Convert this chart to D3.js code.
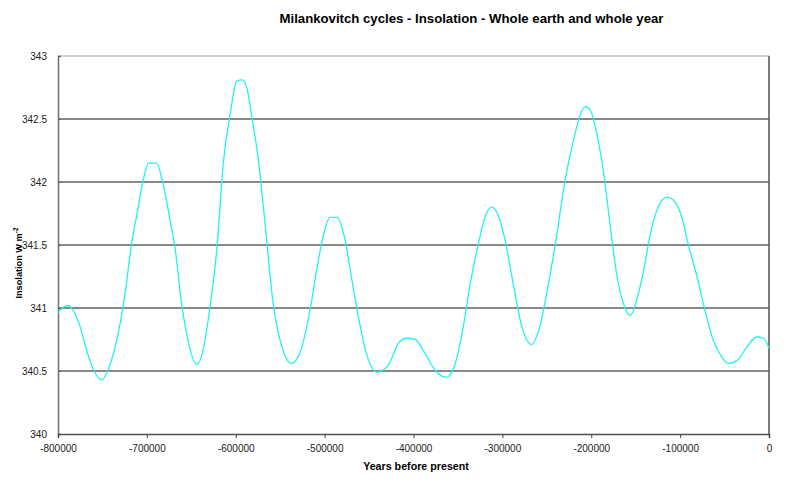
<!DOCTYPE html>
<html><head><meta charset="utf-8">
<script src="https://cdn.jsdelivr.net/npm/d3@7"></script>
<style>body{margin:0;background:#fff}svg{display:block;font-family:"Liberation Sans",Arial,sans-serif}</style>
</head><body><svg id="c" width="800" height="488"></svg>
<script>
const years = [-800000,-798000,-788000,-783000,-775000,-768000,-760000,-751000,-741000,-730000,-725000,-717000,-711000,-704000,-698000,-689000,-682000,-674000,-668000,-661000,-653000,-644000,-636000,-629000,-621000,-614000,-606000,-599000,-593000,-588000,-582000,-575000,-567000,-558000,-548000,-537000,-528000,-516000,-509000,-501000,-494000,-486000,-477000,-470000,-462000,-453000,-441000,-428000,-417000,-408000,-398000,-387000,-376000,-363000,-353000,-344000,-336000,-327000,-318000,-312000,-305000,-297000,-288000,-278000,-267000,-258000,-248000,-239000,-230000,-220000,-213000,-207000,-201000,-194000,-186000,-179000,-171000,-164000,-156000,-149000,-141000,-134000,-126000,-115000,-108000,-98000,-91000,-81000,-72000,-63000,-53000,-46000,-35000,-25000,-14000,-6000,0];
const insolation = [340.96,340.98,341.02,340.98,340.85,340.67,340.51,340.43,340.56,340.88,341.09,341.52,341.75,342.02,342.15,342.15,341.99,341.70,341.46,341.04,340.72,340.55,340.69,341.01,341.49,342.15,342.55,342.80,342.81,342.76,342.52,342.20,341.67,341.04,340.69,340.56,340.64,341.00,341.30,341.59,341.72,341.72,341.54,341.25,340.93,340.64,340.49,340.55,340.72,340.76,340.75,340.64,340.51,340.45,340.56,340.85,341.20,341.51,341.75,341.80,341.74,341.54,341.20,340.85,340.71,340.85,341.20,341.57,341.99,342.33,342.52,342.60,342.57,342.39,342.07,341.67,341.25,341.04,340.94,341.06,341.30,341.57,341.78,341.88,341.86,341.72,341.51,341.25,340.98,340.75,340.61,340.56,340.59,340.69,340.77,340.76,340.68];
const xTicks = [-800000,-700000,-600000,-500000,-400000,-300000,-200000,-100000,0];
const yTicks = [340,340.5,341,341.5,342,342.5,343];
const title = "Milankovitch cycles - Insolation - Whole earth and whole year";
const xTitle = "Years before present";

const svg = d3.select("#c");
const L = 58, R = 769, T = 56, B = 434;
const x = d3.scaleLinear().domain([-800000, 0]).range([L, R]);
const y = d3.scaleLinear().domain([340, 343]).range([B, T]);

// gridlines
svg.append("g").selectAll("line").data(yTicks.filter(v => v > 340 && v < 343)).join("line")
  .attr("x1", L).attr("x2", R).attr("y1", d => y(d)).attr("y2", d => y(d))
  .attr("stroke", "#606060").attr("stroke-width", 1.5);
// top border
svg.append("line").attr("x1", L).attr("x2", R).attr("y1", T).attr("y2", T).attr("stroke", "#a0a0a0").attr("stroke-width", 1.2);
// right border
svg.append("line").attr("x1", R).attr("x2", R).attr("y1", T).attr("y2", B).attr("stroke", "#505050").attr("stroke-width", 1.5);

// y axis
const ya = svg.append("g").attr("transform", `translate(${L},0)`)
  .call(d3.axisLeft(y).tickValues(yTicks).tickSize(-3).tickPadding(11).tickFormat(d => String(d)));
ya.select(".domain").attr("stroke", "#707070").attr("stroke-width", 1.5);
ya.selectAll(".tick line").attr("stroke", "#606060");
ya.selectAll("text").attr("font-size", 10).attr("fill", "#222").attr("font-family", "Liberation Sans, Arial, sans-serif");

// x axis
const xa = svg.append("g").attr("transform", `translate(0,${B})`)
  .call(d3.axisBottom(x).tickValues(xTicks).tickSize(4).tickPadding(7).tickFormat(d => String(d)));
xa.select(".domain").attr("stroke", "#505050").attr("stroke-width", 1.5);
xa.selectAll(".tick line").attr("stroke", "#404040");
xa.selectAll("text").attr("font-size", 10).attr("fill", "#222").attr("font-family", "Liberation Sans, Arial, sans-serif");

// line
const data = years.map((yr, i) => ({yr, v: insolation[i]}));
svg.append("path").datum(data)
  .attr("fill", "none").attr("stroke", "#22f2f2").attr("stroke-width", 1.3)
  .attr("d", d3.line().x(d => x(d.yr)).y(d => y(d.v)).curve(d3.curveMonotoneX));

// titles
svg.append("text").attr("x", 471.5).attr("y", 23).attr("text-anchor", "middle")
  .attr("font-size", 13.2).attr("font-weight", "bold").attr("fill", "#000").text(title);
svg.append("text").attr("x", 416).attr("y", 470).attr("text-anchor", "middle")
  .attr("font-size", 10.7).attr("font-weight", "bold").attr("fill", "#000").text(xTitle);
const yt = svg.append("text").attr("transform", "translate(22,263) rotate(-90)").attr("text-anchor", "middle")
  .attr("font-size", 9.2).attr("font-weight", "bold").attr("fill", "#000");
yt.append("tspan").text("Insolation W m");
yt.append("tspan").attr("font-size", 6.5).attr("dy", -4).text("-2");
</script></body></html>
